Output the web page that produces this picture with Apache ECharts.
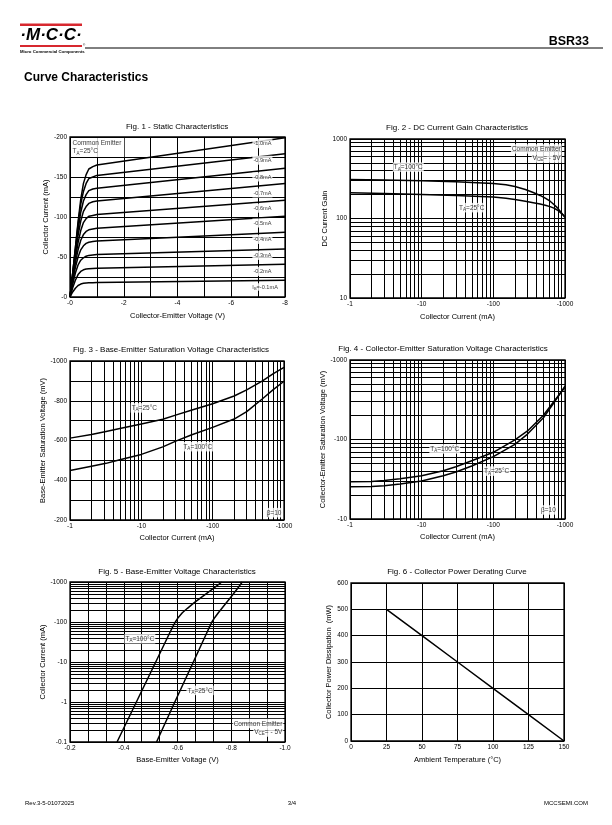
<!DOCTYPE html>
<html><head><meta charset="utf-8">
<script src="https://cdn.jsdelivr.net/npm/echarts@6/dist/echarts.min.js"></script>
<style>html,body{margin:0;padding:0;background:#fff}#c{width:612px;height:825px}</style>
</head><body><div id="c"></div>
<script>
// ---------- Fig.1 Static characteristics ----------
const f1V   = [0, 0.1, 0.2, 0.3, 0.4, 0.5, 0.6, 0.7, 0.85, 1.0, 8];
const f1I10 = [0, 30, 61, 94, 122, 142, 153, 160, 163, 165, 199];
const f1I09 = [0, 30, 61, 91, 116, 132, 142, 148, 150, 152, 179];
const f1I08 = [0, 29, 57, 84, 106, 120, 128, 133, 135, 136, 161];
const f1I07 = [0, 26, 53, 77, 95, 107, 113, 117, 119, 120, 142];
const f1I06 = [0, 25, 48, 68, 83, 93, 98, 101, 102, 103, 121];
const f1I05 = [0, 22, 43, 59, 71, 78, 82, 84, 85, 86, 101];
const f1I04 = [0, 20, 37, 50, 59, 64, 67, 68.5, 69.5, 70, 81];
const f1I03 = [0, 16, 30, 40, 46, 49, 51, 52, 52.5, 53, 60];
const f1I02 = [0, 11.5, 21, 28, 32, 34, 35, 35.3, 35.7, 36, 41];
const f1I01 = [0, 6.3, 11, 14.4, 16.2, 17.1, 17.5, 17.7, 17.8, 18, 21];
const f1IbLabels = ['-1.0mA','-0.9mA','-0.8mA','-0.7mA','-0.6mA','-0.5mA','-0.4mA','-0.3mA','-0.2mA','{m|I}{t|B}{m|=-0.1mA}'];
// ---------- Fig.2 DC current gain ----------
const f2Ic   = [1, 3, 10, 30, 100, 150, 200, 280, 360, 450, 530, 620, 700, 780, 850, 930, 1000];
const f2H100 = [310, 304, 298, 290, 276, 265, 252, 232, 212, 195, 180, 165, 150, 137, 124, 112, 103];
const f2H25  = [211, 206, 201, 195, 186, 180, 173, 165, 158, 152, 147, 141, 135, 128, 120, 112, 105];
// ---------- Fig.3 Base-emitter saturation voltage ----------
const f3Ic    = [1, 2, 3.2, 5, 10, 20, 31, 50, 100, 200, 300, 500, 700, 1000];
const f3V25   = [612, 630, 645, 660, 683, 707, 729, 752, 785, 824, 855, 900, 935, 968];
const f3V100  = [449, 470, 485, 503, 530, 568, 598, 628, 666, 708, 745, 810, 855, 898];
// ---------- Fig.4 Collector-emitter saturation voltage ----------
const f4Ic    = [1, 2, 3, 5, 10, 20, 30, 50, 100, 200, 300, 500, 700, 1000];
const f4V100  = [29.5, 29.7, 30.5, 32, 35, 40.5, 45.5, 54, 69, 99, 128, 202, 300, 455];
const f4V25   = [25.5, 25.7, 26.2, 27.5, 30, 35, 39, 46.5, 61, 87, 117, 188, 290, 470];
// ---------- Fig.5 Base-emitter voltage ----------
const f5I100  = [0.1, 1, 10, 50, 80, 100, 130, 170, 220, 300, 500, 700, 1000];
const f5V100  = [0.375, 0.447, 0.519, 0.569, 0.584, 0.592, 0.603, 0.618, 0.637, 0.661, 0.705, 0.735, 0.765];
const f5I25   = [0.1, 1, 10, 50, 80, 100, 130, 170, 250, 400, 700, 1000];
const f5V25   = [0.522, 0.590, 0.659, 0.707, 0.721, 0.728, 0.739, 0.752, 0.772, 0.796, 0.824, 0.841];
// ---------- Fig.6 Power derating ----------
const f6T = [25, 50, 75, 100, 125, 150];
const f6P = [500, 400, 300, 200, 100, 0];

const FONT = '"Liberation Sans", Arial, sans-serif';
const LS = {color:'#000', width:1, type:'solid'};
const xy = (xs, ys) => xs.map((x, i) => [x, ys[i]]);
const fmtLog = v => v < 1 ? String(+v.toPrecision(1)) : String(Math.round(v));
const neg = v => '-' + v;
const negLog = v => '-' + fmtLog(v);

const RICH = {
  n: {fontSize: 6.5, fontFamily: FONT, color: '#000', lineHeight: 8.5},
  s: {fontSize: 4.5, fontFamily: FONT, color: '#000', lineHeight: 4, verticalAlign: 'bottom'},
  m: {fontSize: 5.6, fontFamily: FONT, color: '#000', lineHeight: 7},
  t: {fontSize: 4, fontFamily: FONT, color: '#000', lineHeight: 3.5, verticalAlign: 'bottom'}
};

function curve(g, data) {
  return {type: 'line', xAxisIndex: g, yAxisIndex: g, data: data, symbol: 'none', smooth: false,
          lineStyle: {color: '#000', width: 1.5, join: 'round'}, z: 5, silent: true, animation: false};
}
function minors(lo, hi) {
  const out = [];
  for (let d = lo; d < hi - 1e-9; d *= 10) for (let k = 2; k <= 9; k++) out.push(+(d * k).toPrecision(3));
  return out;
}
function logGrid(g, xv, yv) {
  return {type: 'line', xAxisIndex: g, yAxisIndex: g, data: [], silent: true, z: 1, animation: false,
    markLine: {silent: true, symbol: ['none', 'none'], label: {show: false}, animation: false,
      lineStyle: LS, emphasis: {disabled: true},
      data: [...xv.map(v => ({xAxis: v})), ...yv.map(v => ({yAxis: v}))]}};
}
function notes(g, items) {
  return {type: 'scatter', xAxisIndex: g, yAxisIndex: g, symbolSize: 0, silent: true, z: 8, clip: false, animation: false,
    data: items.map(it => ({value: [it.x, it.y],
      label: {show: true, position: it.pos || 'inside', distance: 0, formatter: it.t,
        fontSize: it.fs || 6.5, fontFamily: FONT, color: '#000', backgroundColor: '#fff',
        padding: it.pad || [1, 1, 0, 1], lineHeight: 8.5, rich: RICH}}))};
}
const nameStyle = {fontSize: 7.5, fontFamily: FONT, color: '#000'};
function ax(g, o) {
  return Object.assign({gridIndex: g, axisLine: {show: false}, axisTick: {show: false},
    splitLine: {show: true, lineStyle: LS}, nameLocation: 'middle', nameTextStyle: nameStyle, silent: true,
    axisLabel: {fontSize: 6.5, fontFamily: FONT, color: '#000', margin: 3, formatter: o.fmt}}, o);
}

const grids = [
  {left: 70, top: 137, width: 215, height: 160},
  {left: 350, top: 139, width: 215, height: 159},
  {left: 70, top: 361, width: 214, height: 159},
  {left: 350, top: 360, width: 215, height: 159},
  {left: 70, top: 582, width: 215, height: 160},
  {left: 351, top: 583, width: 213, height: 158}
].map(g => Object.assign({show: true, borderColor: '#000', borderWidth: 1.3, backgroundColor: 'transparent', containLabel: false}, g));

const minorLin = n => ({minorTick: {show: false, splitNumber: n}, minorSplitLine: {show: true, lineStyle: LS}});

const xAxes = [
  ax(0, Object.assign({type: 'value', min: 0, max: 8, interval: 2, fmt: neg, name: 'Collector-Emitter Voltage (V)', nameGap: 15}, minorLin(2))),
  ax(1, {type: 'log', logBase: 10, min: 1, max: 1000, fmt: negLog, name: 'Collector Current (mA)', nameGap: 15}),
  ax(2, {type: 'log', logBase: 10, min: 1, max: 1000, fmt: negLog, name: 'Collector Current (mA)', nameGap: 14}),
  ax(3, {type: 'log', logBase: 10, min: 1, max: 1000, fmt: negLog, name: 'Collector Current (mA)', nameGap: 14}),
  ax(4, Object.assign({type: 'value', min: 0.2, max: 1.0, interval: 0.2, fmt: v => '-' + v.toFixed(1), name: 'Base-Emitter Voltage (V)', nameGap: 14}, minorLin(3))),
  ax(5, {type: 'value', min: 0, max: 150, interval: 25, fmt: v => String(v), name: 'Ambient Temperature (°C)', nameGap: 15})
];
const yAxes = [
  ax(0, Object.assign({type: 'value', min: 0, max: 200, interval: 50, fmt: neg, name: 'Collector Current (mA)', nameGap: 20}, minorLin(2))),
  ax(1, {type: 'log', logBase: 10, min: 10, max: 1000, fmt: fmtLog, name: 'DC Current Gain', nameGap: 18}),
  ax(2, Object.assign({type: 'value', min: 200, max: 1000, interval: 200, fmt: neg, name: 'Base-Emitter Saturation Voltage (mV)', nameGap: 18}, minorLin(2))),
  ax(3, {type: 'log', logBase: 10, min: 10, max: 1000, fmt: negLog, name: 'Collector-Emitter Saturation Voltage (mV)', nameGap: 16}),
  ax(4, {type: 'log', logBase: 10, min: 0.1, max: 1000, fmt: negLog, name: 'Collector Current (mA)', nameGap: 18}),
  ax(5, {type: 'value', min: 0, max: 600, interval: 100, fmt: v => String(v), name: 'Collector Power Dissipation  (mW)', nameGap: 16})
];

const TA = t => '{n|T}{s|A}{n|=' + t + '}';
const f1Curves = [f1I10, f1I09, f1I08, f1I07, f1I06, f1I05, f1I04, f1I03, f1I02, f1I01];
const f1LabelPos = [[7.16, 191.7], [7.16, 171], [7.16, 150], [7.16, 130], [7.16, 111], [7.16, 92.5], [7.16, 72], [7.16, 52], [7.16, 32], [7.26, 12.5]];

const series = [
  ...f1Curves.map(c => curve(0, xy(f1V, c))),
  notes(0, f1IbLabels.map((t, i) => ({x: f1LabelPos[i][0], y: f1LabelPos[i][1], t: t, fs: 5.6, pad: [0.5, 1, 0, 1]}))),
  notes(0, [{x: 0.06, y: 187, t: '{n|Common Emitter}\n' + TA('25°C'), pos: 'right', pad: [1, 3, 1, 1]}]),

  logGrid(1, minors(1, 1000), minors(10, 1000)),
  curve(1, xy(f2Ic, f2H100)),
  curve(1, xy(f2Ic, f2H25)),
  notes(1, [{x: 6.5, y: 443, t: TA('100°C')}, {x: 50, y: 137, t: TA('25°C')},
            {x: 899, y: 748, t: '{n|Common Emitter}', pos: 'left'},
            {x: 899, y: 577, t: '{n|V}{s|CE}{n|= - 5V}', pos: 'left'}]),

  logGrid(2, minors(1, 1000), []),
  curve(2, xy(f3Ic, f3V25)),
  curve(2, xy(f3Ic, f3V100)),
  notes(2, [{x: 11, y: 764, t: TA('25°C')}, {x: 62, y: 569, t: TA('100°C')}, {x: 724, y: 237, t: '{n|β=10}'}]),

  logGrid(3, minors(1, 1000), minors(10, 1000)),
  curve(3, xy(f4Ic, f4V100)),
  curve(3, xy(f4Ic, f4V25)),
  notes(3, [{x: 21, y: 76, t: TA('100°C')}, {x: 111, y: 40, t: TA('25°C')}, {x: 586, y: 13, t: '{n|β=10}'}]),

  logGrid(4, [], minors(0.1, 1000)),
  curve(4, xy(f5V100, f5I100)),
  curve(4, xy(f5V25, f5I25)),
  notes(4, [{x: 0.46, y: 38, t: TA('100°C')}, {x: 0.684, y: 1.95, t: TA('25°C')},
            {x: 0.994, y: 0.288, t: '{n|Common Emitter}', pos: 'left'},
            {x: 0.994, y: 0.178, t: '{n|V}{s|CE}{n|= - 5V}', pos: 'left'}]),

  curve(5, xy(f6T, f6P))
];

function txt(x, y, text, font, align, vAlign, fill) {
  return {type: 'text', x: x, y: y, silent: true, z: 10,
    style: {text: text, font: font, fill: fill || '#000', align: align || 'center', textAlign: align || 'center',
            verticalAlign: vAlign || 'middle', textVerticalAlign: vAlign || 'middle'}};
}
const F = s => s + ' "Liberation Sans", Arial, sans-serif';
const titles = [
  [177, 127, 'Fig. 1 - Static Characteristics'],
  [457, 128, 'Fig. 2 - DC Current Gain Characteristics'],
  [171, 350, 'Fig. 3 - Base-Emitter Saturation Voltage Characteristics'],
  [443, 349, 'Fig. 4 - Collector-Emitter Saturation Voltage Characteristics'],
  [177, 572, 'Fig. 5 - Base-Emitter Voltage Characteristics'],
  [457, 572, 'Fig. 6 - Collector Power Derating Curve']
];
const graphics = [
  {type: 'rect', shape: {x: 20, y: 23.5, width: 62, height: 2.5}, style: {fill: '#d7282f'}, silent: true},
  txt(51, 35.5, '·M·C·C·', F('italic bold 17px'), 'center', 'middle'),
  {type: 'rect', shape: {x: 20, y: 45, width: 62, height: 2}, style: {fill: '#d7282f'}, silent: true},
  txt(83, 45, '®', F('3px'), 'left', 'middle'),
  txt(20, 51.5, 'Micro Commercial Components', F('bold 4.3px'), 'left', 'middle'),
  {type: 'line', shape: {x1: 85, y1: 48, x2: 603, y2: 48}, style: {stroke: '#000', lineWidth: 1}, silent: true},
  txt(589, 42, 'BSR33', F('bold 12.5px'), 'right', 'middle'),
  txt(24, 78, 'Curve Characteristics', F('bold 12px'), 'left', 'middle'),
  txt(25, 803, 'Rev.3-5-01072025', F('6px'), 'left', 'middle'),
  txt(292, 803, '3/4', F('6px'), 'center', 'middle'),
  txt(588, 803, 'MCCSEMI.COM', F('6px'), 'right', 'middle'),
  ...titles.map(t => txt(t[0], t[1], t[2], F('8px'), 'center', 'middle'))
];

const chart = echarts.init(document.getElementById('c'), null, {renderer: 'canvas', width: 612, height: 825});
chart.setOption({
  animation: false,
  backgroundColor: '#fff',
  textStyle: {fontFamily: FONT},
  grid: grids,
  xAxis: xAxes,
  yAxis: yAxes,
  series: series,
  graphic: {elements: graphics}
});
</script></body></html>
